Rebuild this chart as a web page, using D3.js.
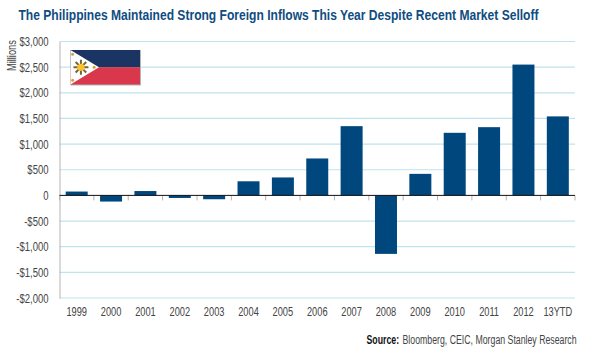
<!DOCTYPE html>
<html lang="en">
  <head>
    <meta charset="utf-8">
    <script src="https://d3js.org/d3.v7.min.js"></script>
    <style>
      html, body { margin: 0; padding: 0; background: #fff; }
      svg { display: block; }
      text { font-family: "Liberation Sans", sans-serif; }
    </style>
  </head>
  <body>
    <svg width="600" height="350"></svg>
    <script>
      // values, in millions of dollars
      var categories = ["1999", "2000", "2001", "2002", "2003", "2004", "2005", "2006", "2007", "2008", "2009", "2010", "2011", "2012", "13YTD"];
      var inflows = [75, -120, 85, -50, -75, 275, 350, 720, 1350, -1140, 420, 1220, 1330, 2550, 1540];
      var yTicks = [-2000, -1500, -1000, -500, 0, 500, 1000, 1500, 2000, 2500, 3000];

      var svg = d3.select("svg");
      var plotLeft = 59.5, plotRight = 575, plotTop = 41.5, plotBottom = 298;

      var xScale = d3.scaleBand().domain(categories).range([plotLeft, plotRight]).paddingInner(0.36).paddingOuter(0.18);
      var yScale = d3.scaleLinear().domain([-2000, 3000]).range([plotBottom, plotTop]);

      function money(d) {
        if (d === 0) return "0";
        return (d < 0 ? "-$" : "$") + d3.format(",")(Math.abs(d));
      }

      // no condensed font installed, so squeeze the text horizontally
      function narrow(selection, k) {
        selection.each(function () {
          d3.select(this)
            .attr("textLength", this.getComputedTextLength() * k)
            .attr("lengthAdjust", "spacingAndGlyphs");
        });
      }

      // title
      svg.append("text")
        .attr("x", 18.5)
        .attr("y", 20)
        .attr("textLength", 520)
        .attr("lengthAdjust", "spacingAndGlyphs")
        .style("font-size", "15.5px")
        .style("font-weight", "bold")
        .style("fill", "#0f4c81")
        .text("The Philippines Maintained Strong Foreign Inflows This Year Despite Recent Market Selloff");

      // gridlines
      svg.append("g")
        .selectAll("line")
        .data(yTicks.filter(function (d) { return d !== 0; }))
        .enter()
        .append("line")
        .attr("x1", plotLeft)
        .attr("x2", plotRight)
        .attr("y1", function (d) { return yScale(d); })
        .attr("y2", function (d) { return yScale(d); })
        .style("stroke", "#bfe3ec")
        .style("stroke-width", 1.2);

      // flag, drawn over the gridlines
      var flagX = d3.scaleLinear().domain([0, 1]).range([70.5, 140]);
      var flagY = d3.scaleLinear().domain([0, 1]).range([50, 84.5]);
      var flag = svg.append("g");
      flag.append("rect")
        .attr("x", flagX(0)).attr("y", flagY(0))
        .attr("width", flagX(1) - flagX(0) + 1)
        .attr("height", flagY(1) - flagY(0) + 1)
        .style("fill", "#b5b5b5");
      flag.append("rect")
        .attr("x", flagX(0)).attr("y", flagY(0))
        .attr("width", flagX(1) - flagX(0))
        .attr("height", flagY(0.5) - flagY(0))
        .style("fill", "#1a3563");
      flag.append("rect")
        .attr("x", flagX(0)).attr("y", flagY(0.5))
        .attr("width", flagX(1) - flagX(0))
        .attr("height", flagY(1) - flagY(0.5))
        .style("fill", "#d8374c");
      flag.append("path")
        .attr("d", d3.line()([
          [flagX(0), flagY(0)],
          [flagX(0.41), flagY(0.5)],
          [flagX(0), flagY(1)]
        ]) + "Z")
        .style("fill", "#ffffff");
      // sun rays
      var sunX = flagX(0.15), sunY = flagY(0.5);
      d3.range(8).forEach(function (i) {
        var a = i * Math.PI / 4;
        flag.append("line")
          .attr("x1", sunX + Math.cos(a) * 3)
          .attr("y1", sunY + Math.sin(a) * 3)
          .attr("x2", sunX + Math.cos(a) * 7.5)
          .attr("y2", sunY + Math.sin(a) * 7.5)
          .style("stroke", "#75662f")
          .style("stroke-width", 2);
      });
      flag.append("circle").attr("cx", sunX).attr("cy", sunY).attr("r", 3.6).style("fill", "#fbc02d");
      [[0.03, 0.125], [0.03, 0.875], [0.34, 0.5]].forEach(function (p) {
        flag.append("circle")
          .attr("cx", flagX(p[0])).attr("cy", flagY(p[1])).attr("r", 1.5)
          .style("fill", "#c9a53c");
      });

      // bars
      svg.append("g")
        .selectAll("rect")
        .data(inflows)
        .enter()
        .append("rect")
        .attr("x", function (d, i) { return xScale(categories[i]); })
        .attr("y", function (d) { return yScale(Math.max(d, 0)); })
        .attr("width", xScale.bandwidth())
        .attr("height", function (d) { return Math.abs(yScale(d) - yScale(0)); })
        .style("fill", "#00477d");

      // y axis
      var yAxis = svg.append("g")
        .attr("transform", "translate(" + plotLeft + ",0)")
        .call(d3.axisLeft(yScale).tickValues(yTicks).tickFormat(money).tickSize(0).tickPadding(11));
      yAxis.select(".domain").style("stroke", "#b4b4b4").style("stroke-width", 1);
      yAxis.selectAll("text")
        .style("font-size", "12.5px")
        .style("fill", "#444")
        .style("font-family", "Liberation Sans")
        .call(narrow, 0.76);

      // tick marks under the zero line, then the zero line
      svg.append("g")
        .selectAll("line")
        .data(d3.range(categories.length + 1))
        .enter()
        .append("line")
        .attr("x1", function (d) { return plotLeft + d * (plotRight - plotLeft) / categories.length; })
        .attr("x2", function (d) { return plotLeft + d * (plotRight - plotLeft) / categories.length; })
        .attr("y1", yScale(0))
        .attr("y2", yScale(0) + 5)
        .style("stroke", "#b4b4b4");
      svg.append("line")
        .attr("x1", plotLeft)
        .attr("x2", plotRight)
        .attr("y1", yScale(0))
        .attr("y2", yScale(0))
        .style("stroke", "#111")
        .style("stroke-width", 1);

      // category labels along the bottom
      svg.append("g")
        .selectAll("text")
        .data(categories)
        .enter()
        .append("text")
        .attr("x", function (d) { return xScale(d) + xScale.bandwidth() / 2; })
        .attr("y", 315.5)
        .attr("text-anchor", "middle")
        .style("font-size", "12.5px")
        .style("fill", "#444")
        .text(function (d) { return d; })
        .call(narrow, 0.74);

      // y axis title
      svg.append("text")
        .attr("transform", "translate(16,71)rotate(-90)")
        .style("font-size", "12.5px")
        .style("fill", "#444")
        .text("Millions")
        .call(narrow, 0.74);

      // source line
      svg.append("text")
        .attr("x", 366.5)
        .attr("y", 343.5)
        .style("font-size", "12.5px")
        .style("font-weight", "bold")
        .style("fill", "#111")
        .text("Source:")
        .call(narrow, 0.7);
      svg.append("text")
        .attr("x", 402.5)
        .attr("y", 343.5)
        .style("font-size", "12.5px")
        .style("fill", "#444")
        .text("Bloomberg, CEIC, Morgan Stanley Research")
        .call(narrow, 0.7);
    </script>
  </body>
</html>
